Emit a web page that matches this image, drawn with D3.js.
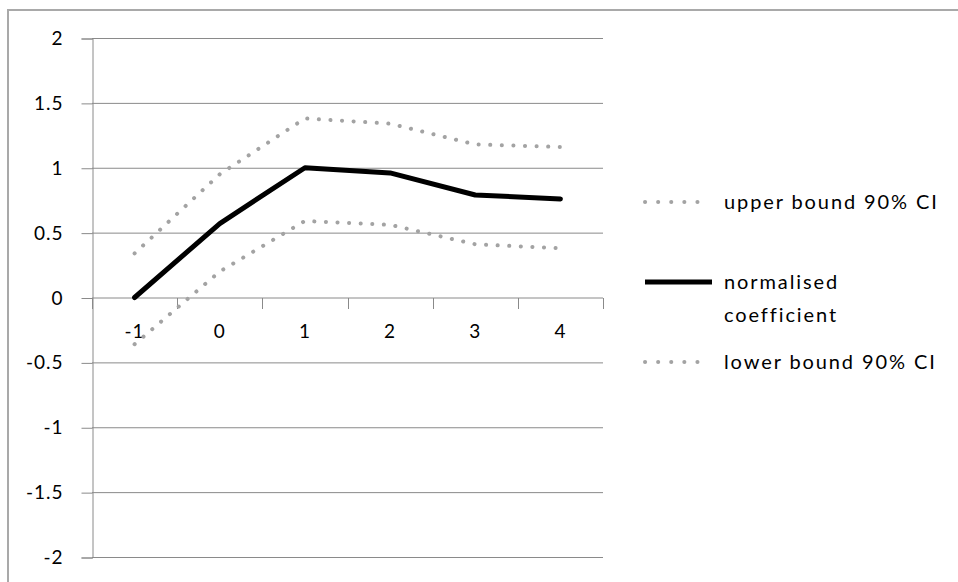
<!DOCTYPE html>
<html>
<head>
<meta charset="utf-8">
<script src="https://cdn.jsdelivr.net/npm/d3@7"></script>
<style>
  html, body { margin: 0; padding: 0; background: #fff; }
  svg { display: block; }
  text { font-family: Lato, "DejaVu Sans", sans-serif; fill: #000; }
</style>
</head>
<body>
<svg id="chart" width="958" height="582"></svg>
<script>
// Event-time categories and series
const categories = ["-1", "0", "1", "2", "3", "4"];
const upperBound = [0.34, 0.95, 1.38, 1.34, 1.18, 1.16];
const coefficient = [0, 0.57, 1.0, 0.96, 0.79, 0.76];
const lowerBound = [-0.36, 0.20, 0.59, 0.56, 0.41, 0.38];

// Value axis ticks and their labels
const yTicks = [-2, -1.5, -1, -0.5, 0, 0.5, 1, 1.5, 2];
const yTickLabels = ["-2", "-1.5", "-1", "-0.5", "0", "0.5", "1", "1.5", "2"];

// Legend entries
const legendNames = ["upper bound 90% CI", "normalised\ncoefficient", "lower bound 90% CI"];

const svg = d3.select("#chart");
const plot = { left: 92, right: 603, top: 38, bottom: 557 };

const gridColor = "#8a8a8a";
const ciColor = "#a3a3a3";

// Outer chart frame (runs past the right and bottom edges)
svg.append("rect")
  .attr("x", 8).attr("y", 10)
  .attr("width", 1000).attr("height", 1000)
  .attr("fill", "none")
  .attr("stroke", "#a9a9a9")
  .attr("stroke-width", 2);

const x = d3.scaleBand().domain(categories).range([plot.left, plot.right]).padding(0);
const y = d3.scaleLinear().domain([-2, 2]).range([plot.bottom, plot.top]);
const cx = c => x(c) + x.bandwidth() / 2;

// Horizontal gridlines
svg.append("g").selectAll("line")
  .data(yTicks)
  .join("line")
  .attr("x1", plot.left).attr("x2", plot.right)
  .attr("y1", d => y(d) + 0.5).attr("y2", d => y(d) + 0.5)
  .attr("stroke", gridColor).attr("stroke-width", 1);

// Value axis
const yAxis = svg.append("g")
  .attr("transform", `translate(${plot.left + 0.5},0.5)`)
  .call(d3.axisLeft(y)
    .tickValues(yTicks)
    .tickFormat((d, i) => yTickLabels[i])
    .tickSize(11)
    .tickPadding(18));
yAxis.select(".domain").attr("stroke", gridColor);
yAxis.selectAll(".tick line").attr("stroke", gridColor);
yAxis.selectAll(".tick text")
  .attr("font-size", 19)
  .attr("letter-spacing", 1)
  .attr("fill", "#000")
  .style("font-family", "Lato, 'DejaVu Sans', sans-serif");

// Category axis at zero, ticks on category boundaries
const zeroY = y(0) + 0.5;
const xAxis = svg.append("g")
  .attr("transform", `translate(0,${zeroY})`)
  .call(d3.axisBottom(x).tickSize(0).tickPadding(27));
xAxis.select(".domain").remove();
xAxis.selectAll(".tick text")
  .attr("font-size", 19)
  .attr("letter-spacing", 1)
  .attr("fill", "#000")
  .style("font-family", "Lato, 'DejaVu Sans', sans-serif");

const boundaries = categories.map(c => x(c)).concat([x.range()[1]]);
svg.append("g").selectAll("line")
  .data(boundaries)
  .join("line")
  .attr("x1", d => Math.round(d) + 0.5).attr("x2", d => Math.round(d) + 0.5)
  .attr("y1", zeroY).attr("y2", zeroY + 11)
  .attr("stroke", gridColor).attr("stroke-width", 1);

// Series lines
const line = d3.line()
  .x((d, i) => cx(categories[i]))
  .y(d => y(d));

const series = [
  { values: upperBound, color: ciColor, width: 4, dash: "0.1 11.5" },
  { values: lowerBound, color: ciColor, width: 4, dash: "0.1 11.5" },
  { values: coefficient, color: "#000", width: 5, dash: null }
];

svg.append("g").selectAll("path")
  .data(series)
  .join("path")
  .attr("d", d => line(d.values))
  .attr("fill", "none")
  .attr("stroke", d => d.color)
  .attr("stroke-width", d => d.width)
  .attr("stroke-linecap", "round")
  .attr("stroke-linejoin", "round")
  .attr("stroke-dasharray", d => d.dash);

// Legend
const legendStyles = [series[0], series[2], series[1]];
const legendRows = [202, 282, 362];
const legend = svg.append("g");
legendNames.forEach((name, i) => {
  const s = legendStyles[i];
  const yy = legendRows[i];
  legend.append("line")
    .attr("x1", 645).attr("x2", s.dash ? 710 : 712)
    .attr("y1", yy).attr("y2", yy)
    .attr("stroke", s.color)
    .attr("stroke-width", s.dash ? 4 : 5)
    .attr("stroke-linecap", s.dash ? "round" : "butt")
    .attr("stroke-dasharray", s.dash ? "0.1 13" : null);
  const lines = name.split("\n");
  const t = legend.append("text")
    .attr("x", 724)
    .attr("y", yy + 7)
    .attr("font-size", 20)
    .attr("letter-spacing", 1.9);
  lines.forEach((ln, j) => {
    t.append("tspan")
      .attr("x", 724)
      .attr("dy", j === 0 ? 0 : 33)
      .text(ln);
  });
});
</script>
</body>
</html>
